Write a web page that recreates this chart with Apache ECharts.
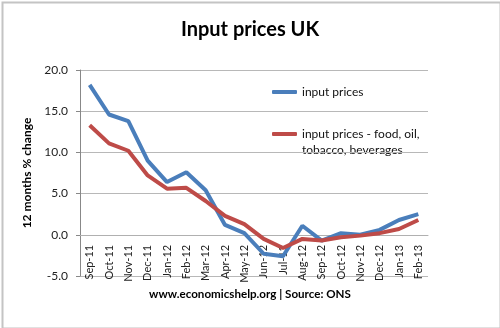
<!DOCTYPE html>
<html>
<head>
<meta charset="utf-8">
<script src="https://cdn.jsdelivr.net/npm/echarts@6/dist/echarts.min.js"></script>
<style>
html,body{margin:0;padding:0;background:#fff;}
#chart{width:500px;height:328px;}
</style>
</head>
<body>
<div id="chart"></div>
<script>
const categories = ['Sep-11','Oct-11','Nov-11','Dec-11','Jan-12','Feb-12','Mar-12','Apr-12','May-12','Jun-12','Jul-12','Aug-12','Sep-12','Oct-12','Nov-12','Dec-12','Jan-13','Feb-13'];
const inputPrices = [18.2, 14.6, 13.8, 9.0, 6.4, 7.6, 5.4, 1.2, 0.2, -2.3, -2.6, 1.1, -0.7, 0.2, 0.0, 0.6, 1.8, 2.5];
const inputPricesExcl = [13.3, 11.1, 10.2, 7.2, 5.6, 5.7, 4.1, 2.3, 1.3, -0.5, -1.6, -0.5, -0.7, -0.3, -0.1, 0.2, 0.7, 1.8];
const yTicks = [-5, 0, 5, 10, 15, 20];
const seriesNames = ['input prices', 'input prices - food, oil,'];
const legendContinuation = 'tobacco, beverages';

const FONT = 'Lato, "Open Sans", sans-serif';
const GRID_TOP = 70, GRID_BOTTOM = 52, HEIGHT = 328;
const plotH = HEIGHT - GRID_TOP - GRID_BOTTOM;
const Y_MIN = -5, Y_MAX = 20;
// shift x axis from bottom of grid up to the zero line
const zeroOffset = -plotH * (0 - Y_MIN) / (Y_MAX - Y_MIN);

const chart = echarts.init(document.getElementById('chart'));
chart.setOption({
  animation: false,
  backgroundColor: '#fff',
  title: {
    text: 'Input prices UK',
    left: 'center',
    top: 15,
    textStyle: { fontFamily: FONT, fontWeight: 'bold', fontSize: 20, color: '#000' }
  },
  grid: { left: 80, right: 72, top: GRID_TOP, bottom: GRID_BOTTOM },
  legend: {
    orient: 'vertical',
    left: 272,
    top: 86,
    padding: 0,
    itemGap: 30,
    itemWidth: 25,
    itemHeight: 4,
    icon: 'roundRect',
    textStyle: { fontFamily: FONT, fontSize: 12, color: '#111' },
    data: seriesNames
  },
  graphic: [
    { type: 'text', left: 302, top: 144,
      style: { text: legendContinuation, font: '12px ' + FONT, fill: '#111' } },
    { type: 'text', left: 'center', top: 288,
      style: { text: 'www.economicshelp.org | Source: ONS', font: 'bold 11.6px ' + FONT, fill: '#000' } },
    { type: 'rect', left: 0, top: 0, z: 100,
      shape: { x: 0, y: 0, width: 498, height: 326 },
      style: { fill: 'none', stroke: '#c4c4c4', lineWidth: 2 } }
  ],
  xAxis: {
    type: 'category',
    data: categories,
    boundaryGap: true,
    offset: zeroOffset,
    axisLine: { onZero: false, lineStyle: { color: '#b0b0b0', width: 1 } },
    axisTick: { show: false },
    axisLabel: { rotate: 90, margin: 10, fontFamily: FONT, fontSize: 11, color: '#222', interval: 0 }
  },
  yAxis: {
    type: 'value',
    min: Y_MIN, max: Y_MAX, interval: 5,
    name: '12 months % change',
    nameLocation: 'middle',
    nameGap: 28,
    nameTextStyle: { fontFamily: FONT, fontWeight: 'bold', fontSize: 12, color: '#000' },
    axisLine: { show: true, lineStyle: { color: '#888', width: 1 } },
    axisTick: { show: true, length: 4, lineStyle: { color: '#888' } },
    splitLine: { show: true, lineStyle: { color: '#b8b8b8', width: 1 } },
    axisLabel: {
      margin: 12, fontFamily: FONT, fontSize: 12, color: '#222',
      formatter: v => yTicks.includes(v) ? v.toFixed(1) : ''
    }
  },
  series: [
    { name: seriesNames[0], type: 'line', data: inputPrices, showSymbol: false, symbol: 'none',
      lineStyle: { color: '#4A7EBB', width: 4 }, itemStyle: { color: '#4A7EBB' }, z: 3 },
    { name: seriesNames[1], type: 'line', data: inputPricesExcl, showSymbol: false, symbol: 'none',
      lineStyle: { color: '#BE4B48', width: 4 }, itemStyle: { color: '#BE4B48' }, z: 4 }
  ]
});
</script>
</body>
</html>
